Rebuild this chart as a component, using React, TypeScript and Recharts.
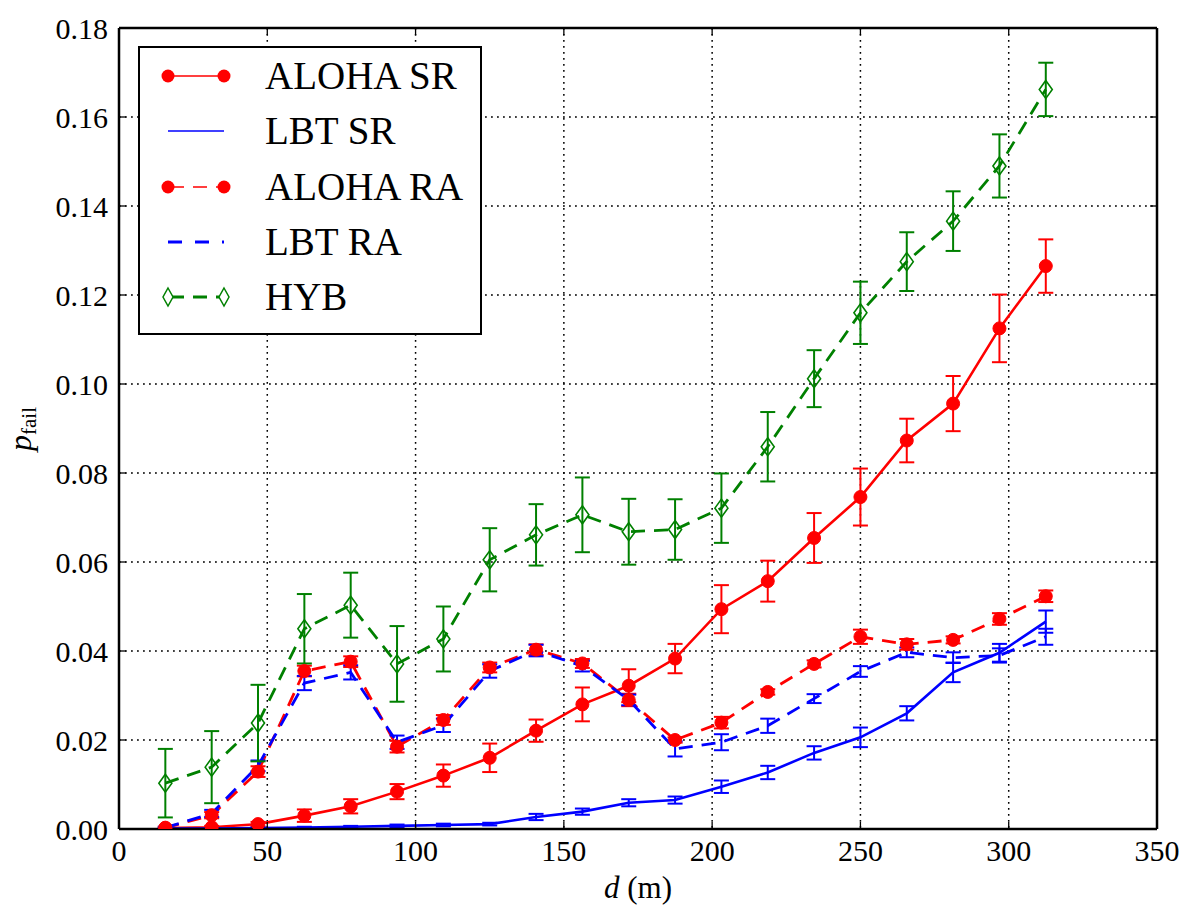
import React from 'react';
import { LineChart, Line, XAxis, YAxis, CartesianGrid, ErrorBar } from 'recharts';

// distance d (m) of each measurement point
const distances = [
  15.625, 31.25, 46.875, 62.5, 78.125, 93.75, 109.375, 125, 140.625, 156.25,
  171.875, 187.5, 203.125, 218.75, 234.375, 250, 265.625, 281.25, 296.875, 312.5,
];

const alohaSr = [
  0.0002, 0.0004, 0.0011, 0.003, 0.0051, 0.0084, 0.012, 0.016, 0.0221, 0.028,
  0.0322, 0.0383, 0.0494, 0.0557, 0.0654, 0.0746, 0.0873, 0.0956, 0.1125, 0.1265,
];
const alohaSrErr = [
  0.0002, 0.0003, 0.0005, 0.0014, 0.0016, 0.0017, 0.0025, 0.0032, 0.0025, 0.0038,
  0.0037, 0.0033, 0.0054, 0.0046, 0.0056, 0.0064, 0.0049, 0.0062, 0.0076, 0.006,
];

const lbtSr = [
  0.0001, 0.0001, 0.0002, 0.0003, 0.0005, 0.0007, 0.0009, 0.0011, 0.0027, 0.0039,
  0.0059, 0.0065, 0.0095, 0.0127, 0.0171, 0.0206, 0.026, 0.0352, 0.0396, 0.0466,
];
const lbtSrErr = [
  0.0001, 0.0001, 0.0001, 0.0002, 0.0002, 0.0003, 0.0003, 0.0003, 0.0007, 0.0007,
  0.0008, 0.0008, 0.0014, 0.0015, 0.0015, 0.0022, 0.0016, 0.0022, 0.002, 0.0025,
];

const alohaRa = [
  0.0003, 0.0031, 0.0129, 0.0355, 0.0376, 0.0185, 0.0245, 0.0363, 0.0403, 0.0372,
  0.029, 0.02, 0.0239, 0.0308, 0.0371, 0.0432, 0.0415, 0.0425, 0.0472, 0.0523,
];
const alohaRaErr = [
  0.0002, 0.0007, 0.0012, 0.0012, 0.0012, 0.0013, 0.0011, 0.0011, 0.0012, 0.001,
  0.0014, 0.0006, 0.0013, 0.0006, 0.0008, 0.0016, 0.0012, 0.0008, 0.0013, 0.0013,
];

const lbtRa = [
  0.0003, 0.0035, 0.0142, 0.0328, 0.0352, 0.0195, 0.0233, 0.0355, 0.0401, 0.0366,
  0.029, 0.018, 0.0195, 0.0232, 0.0293, 0.0354, 0.0397, 0.0385, 0.039, 0.0432,
];
const lbtRaErr = [
  0.0002, 0.0008, 0.0012, 0.0016, 0.0016, 0.0015, 0.0015, 0.0015, 0.0013, 0.0012,
  0.0012, 0.0017, 0.0018, 0.0016, 0.001, 0.0012, 0.0011, 0.0012, 0.0016, 0.0018,
];

const hyb = [
  0.0103, 0.0139, 0.0238, 0.045, 0.0503, 0.0371, 0.0427, 0.0605, 0.0661, 0.0706,
  0.0668, 0.0673, 0.0721, 0.0859, 0.1012, 0.116, 0.1275, 0.1366, 0.149, 0.1662,
];
const hybErr = [
  0.0077, 0.0081, 0.0086, 0.0078, 0.0073, 0.0085, 0.0073, 0.0071, 0.0069, 0.0084,
  0.0074, 0.0068, 0.0078, 0.0078, 0.0064, 0.007, 0.0066, 0.0067, 0.0071, 0.006,
];

const xTicks = [0, 50, 100, 150, 200, 250, 300, 350];
const yTicks = [0, 0.02, 0.04, 0.06, 0.08, 0.1, 0.12, 0.14, 0.16, 0.18];

const legendItems = ['ALOHA SR', 'LBT SR', 'ALOHA RA', 'LBT RA', 'HYB'];

const RED = '#ff0000';
const BLUE = '#0000ff';
const GREEN = '#008000';
const SERIF = "'Liberation Serif', 'Times New Roman', serif";
const DASH = '14 9';

const data = distances.map((d, i) => ({
  d,
  alohaSr: alohaSr[i],
  alohaSrErr: alohaSrErr[i],
  lbtSr: lbtSr[i],
  lbtSrErr: lbtSrErr[i],
  alohaRa: alohaRa[i],
  alohaRaErr: alohaRaErr[i],
  lbtRa: lbtRa[i],
  lbtRaErr: lbtRaErr[i],
  hyb: hyb[i],
  hybErr: hybErr[i],
}));

const RedDot = (props: any) => {
  const { cx, cy, index } = props;
  if (cx == null || cy == null) return <g key={index} />;
  return <circle key={index} cx={cx} cy={cy} r={6.5} fill={RED} stroke={RED} strokeWidth={1} />;
};

const Diamond = (props: any) => {
  const { cx, cy, index } = props;
  if (cx == null || cy == null) return <g key={index} />;
  return (
    <path
      key={index}
      d={`M${cx},${cy - 9} L${cx + 6.5},${cy} L${cx},${cy + 9} L${cx - 6.5},${cy} Z`}
      fill="none"
      stroke={GREEN}
      strokeWidth={1.6}
    />
  );
};

const noTick = () => <g />;

const YLabel = () => (
  <text transform="rotate(-90)" x={-429} y={31} textAnchor="middle" fontFamily={SERIF} fontSize={32} fill="#000">
    <tspan fontStyle="italic">p</tspan>
    <tspan fontSize={21} dy={5}>fail</tspan>
  </text>
);

const XLabel = () => (
  <text x={638} y={898} textAnchor="middle" fontFamily={SERIF} fontSize={31} fill="#000">
    <tspan fontStyle="italic">d</tspan>
    <tspan>{' (m)'}</tspan>
  </text>
);

const LegendIcon = ({ i }: { i: number }) => {
  if (i === 0) {
    return (
      <svg width={70} height={20}>
        <line x1={7} y1={10} x2={63} y2={10} stroke={RED} strokeWidth={1.5} />
        <circle cx={7} cy={10} r={6.5} fill={RED} />
        <circle cx={63} cy={10} r={6.5} fill={RED} />
      </svg>
    );
  }
  if (i === 1) {
    return (
      <svg width={70} height={20}>
        <line x1={7} y1={10} x2={63} y2={10} stroke={BLUE} strokeWidth={1.5} />
      </svg>
    );
  }
  if (i === 2) {
    return (
      <svg width={70} height={20}>
        <line x1={7} y1={10} x2={63} y2={10} stroke={RED} strokeWidth={1.5} strokeDasharray="14 9" strokeDashoffset={-2} />
        <circle cx={7} cy={10} r={6.5} fill={RED} />
        <circle cx={63} cy={10} r={6.5} fill={RED} />
      </svg>
    );
  }
  if (i === 3) {
    return (
      <svg width={70} height={20}>
        <line x1={7} y1={10} x2={63} y2={10} stroke={BLUE} strokeWidth={2.8} strokeDasharray="14 13" />
      </svg>
    );
  }
  return (
    <svg width={70} height={24}>
      <line x1={7} y1={12} x2={63} y2={12} stroke={GREEN} strokeWidth={2.8} strokeDasharray="14 9" strokeDashoffset={-2} />
      <path d="M7,3 L12,12 L7,21 L2,12 Z" fill="#fff" stroke={GREEN} strokeWidth={1.5} />
      <path d="M63,3 L68,12 L63,21 L58,12 Z" fill="#fff" stroke={GREEN} strokeWidth={1.5} />
    </svg>
  );
};

const App: React.FC = () => {
  const tickStyle = { fill: '#000', fontSize: 30, fontFamily: SERIF };
  const axisLine = { stroke: '#000', strokeWidth: 2.5 };
  const tickLine = { stroke: '#000', strokeWidth: 1.3 };

  return (
    <div style={{ position: 'absolute', left: 0, top: 0, width: 1184, height: 907, background: '#fff' }}>
      <LineChart width={1184} height={907} data={data} margin={{ top: 18, right: 17, left: 19, bottom: 0 }}>
        <CartesianGrid stroke="#000" strokeDasharray="1.8 4.2" strokeWidth={1.5} />
        <XAxis
          dataKey="d"
          type="number"
          domain={[0, 350]}
          ticks={xTicks}
          allowDataOverflow
          height={78}
          tick={tickStyle}
          tickSize={-7}
          tickMargin={18}
          axisLine={axisLine}
          tickLine={tickLine}
          label={{ content: () => <XLabel /> }}
        />
        <XAxis
          xAxisId="top"
          dataKey="d"
          type="number"
          orientation="top"
          domain={[0, 350]}
          ticks={xTicks}
          allowDataOverflow
          height={10}
          tick={noTick}
          tickSize={-7}
          axisLine={axisLine}
          tickLine={tickLine}
        />
        <YAxis
          type="number"
          domain={[0, 0.18]}
          ticks={yTicks}
          allowDataOverflow
          width={100}
          tick={tickStyle}
          tickFormatter={(v: number) => v.toFixed(2)}
          tickSize={-7}
          tickMargin={18}
          axisLine={axisLine}
          tickLine={tickLine}
          label={{ content: () => <YLabel /> }}
        />
        <YAxis
          yAxisId="right"
          type="number"
          orientation="right"
          domain={[0, 0.18]}
          ticks={yTicks}
          allowDataOverflow
          width={10}
          tick={noTick}
          tickSize={-7}
          axisLine={axisLine}
          tickLine={tickLine}
        />

        <Line type="linear" dataKey="alohaSr" stroke={RED} strokeWidth={2.6} dot={RedDot} activeDot={false} isAnimationActive={false}>
          <ErrorBar dataKey="alohaSrErr" width={7.5} stroke={RED} strokeWidth={2} direction="y" />
        </Line>
        <Line type="linear" dataKey="lbtSr" stroke={BLUE} strokeWidth={2.6} dot={false} activeDot={false} isAnimationActive={false}>
          <ErrorBar dataKey="lbtSrErr" width={7.5} stroke={BLUE} strokeWidth={2} direction="y" />
        </Line>
        <Line type="linear" dataKey="alohaRa" stroke={RED} strokeWidth={2.8} strokeDasharray={DASH} dot={RedDot} activeDot={false} isAnimationActive={false}>
          <ErrorBar dataKey="alohaRaErr" width={7.5} stroke={RED} strokeWidth={2} direction="y" />
        </Line>
        <Line type="linear" dataKey="lbtRa" stroke={BLUE} strokeWidth={2.8} strokeDasharray={DASH} dot={false} activeDot={false} isAnimationActive={false}>
          <ErrorBar dataKey="lbtRaErr" width={7.5} stroke={BLUE} strokeWidth={2} direction="y" />
        </Line>
        <Line type="linear" dataKey="hyb" stroke={GREEN} strokeWidth={2.8} strokeDasharray={DASH} dot={Diamond} activeDot={false} isAnimationActive={false}>
          <ErrorBar dataKey="hybErr" width={7.5} stroke={GREEN} strokeWidth={2} direction="y" />
        </Line>
      </LineChart>

      {/* legend box, top left inside the plot */}
      <div
        style={{
          position: 'absolute',
          left: 138,
          top: 46,
          width: 344,
          height: 289,
          boxSizing: 'border-box',
          border: '2.5px solid #000',
          background: '#fff',
          fontFamily: SERIF,
          fontSize: 39,
          color: '#000',
        }}
      >
        {legendItems.map((name, i) => (
          <div
            key={name}
            style={{
              position: 'absolute',
              left: 21,
              top: 28 + i * 55.3 - 26,
              height: 52,
              display: 'flex',
              alignItems: 'center',
              whiteSpace: 'nowrap',
            }}
          >
            <LegendIcon i={i} />
            <span style={{ marginLeft: 34, lineHeight: '52px' }}>{name}</span>
          </div>
        ))}
      </div>
    </div>
  );
};

export default App;
